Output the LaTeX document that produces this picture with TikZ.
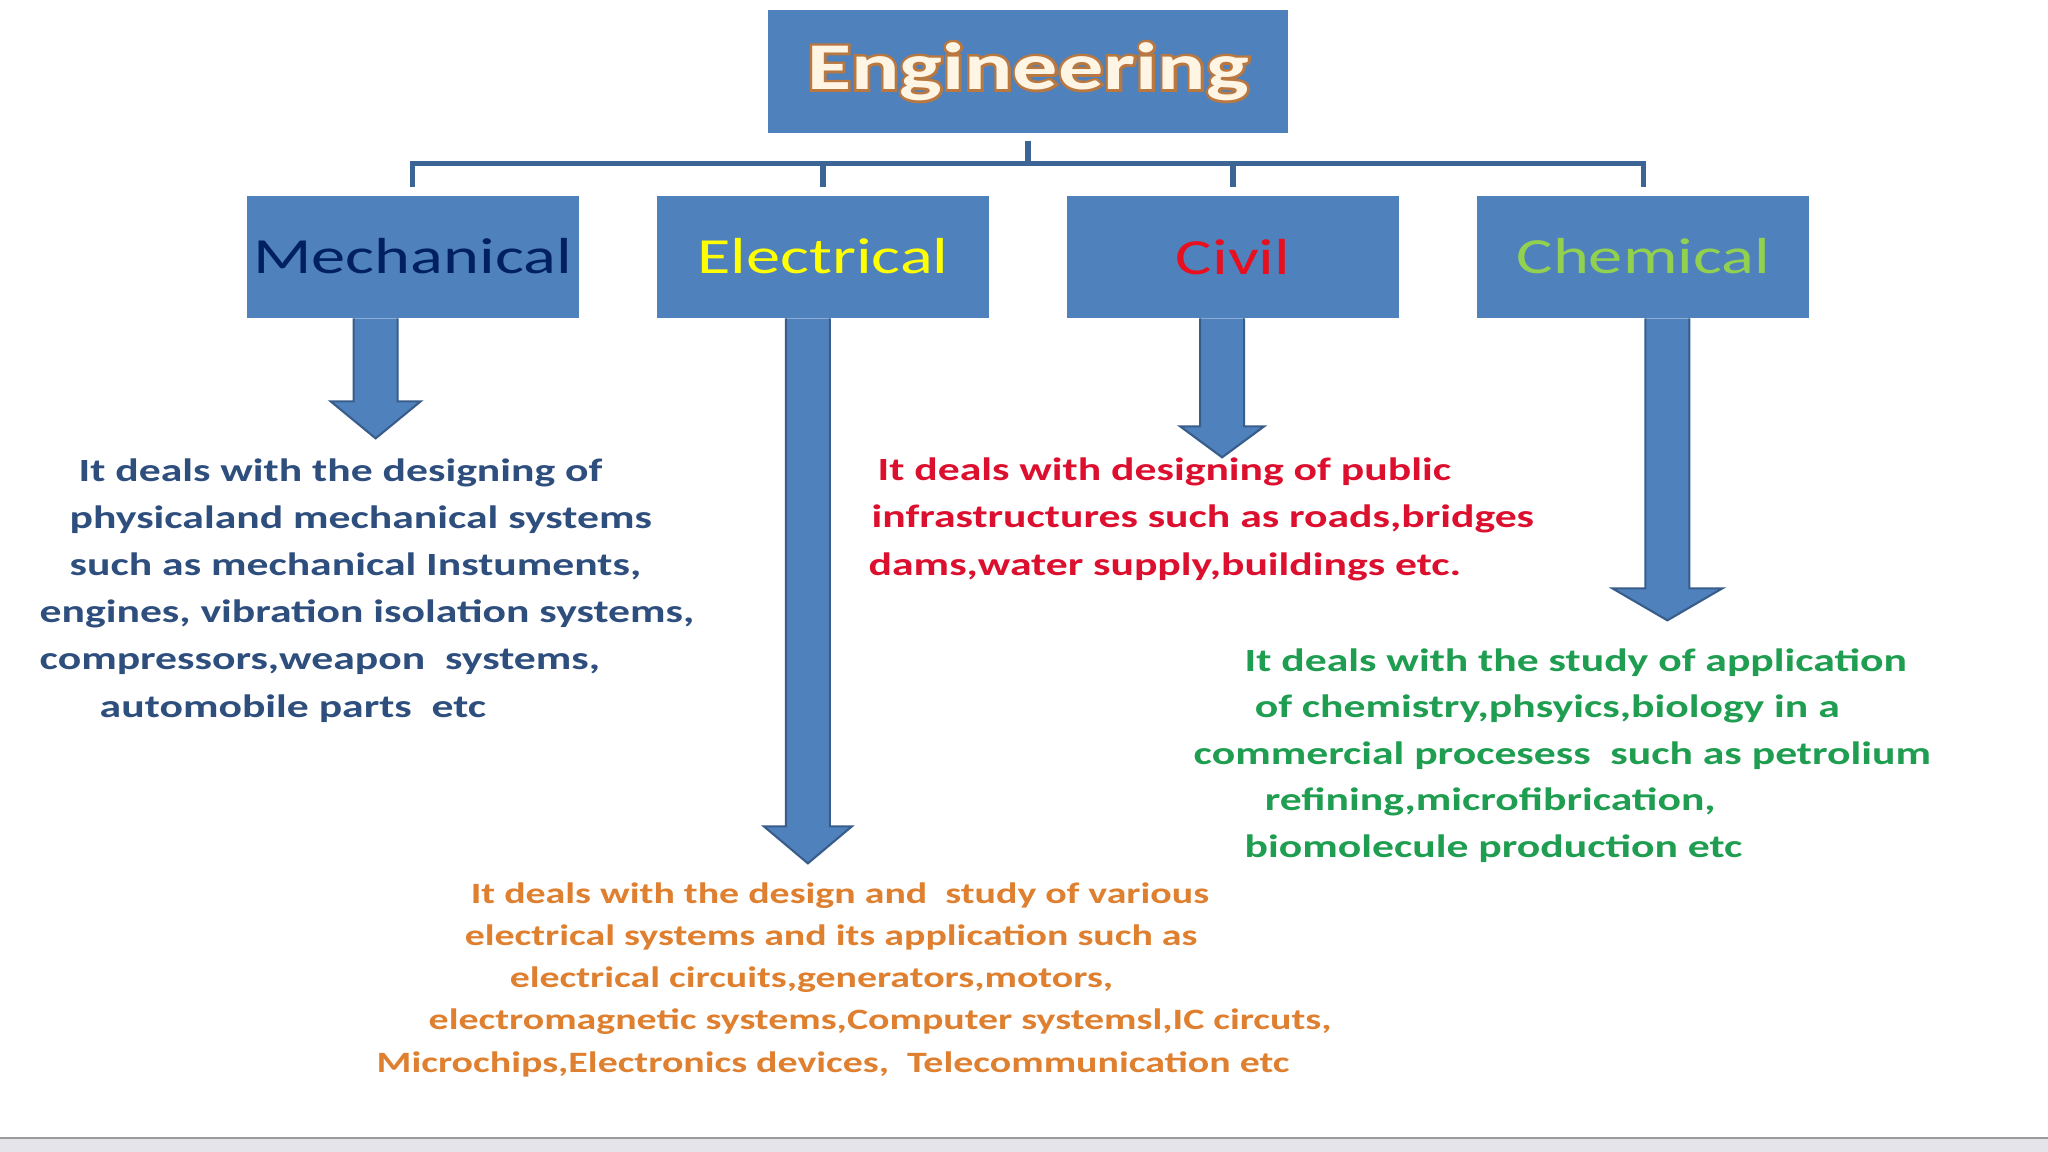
\documentclass[tikz,border=0pt]{standalone}
\usepackage{fontspec}
\setmainfont{Carlito}[FakeStretch=1.35]
\newfontface\glowface{Carlito Bold}[FakeStretch=1.35, FakeBold=8]

\definecolor{boxblue}{HTML}{4F81BD}
\definecolor{linkblue}{HTML}{3C6494}
\definecolor{arrowline}{HTML}{385D8A}
\definecolor{glow}{HTML}{B87840}
\definecolor{cream}{HTML}{FFF5E4}
\definecolor{mechblue}{HTML}{002060}
\definecolor{elecyellow}{HTML}{FFFF00}
\definecolor{civilred}{HTML}{E8101E}
\definecolor{chemgreen}{HTML}{92D050}
\definecolor{mechtext}{HTML}{2E4F7E}
\definecolor{electext}{HTML}{DE8030}
\definecolor{civiltext}{HTML}{DC102E}
\definecolor{chemtext}{HTML}{1F9D50}
\definecolor{bandgray}{HTML}{E4E4EA}
\definecolor{bandline}{HTML}{9A9A9A}

% orange halo round the title
\newcommand{\glowtext}[1]{%
    \makebox[0pt][l]{\glowface\textcolor{glow}{#1}}\textcolor{cream}{#1}}

% block arrow: node, x offset, shaft length, head length, head half width
\newcommand{\blockarrow}[5]{%
    \filldraw[bigarrow] ([shift={(#2,0)}]#1.south) ++(-22,0) -- ++(0,#3)
        -- ++({22-#5},0) -- ++(#5,#4) -- ++(#5,-#4) -- ++({22-#5},0) -- ++(0,-#3);}

\begin{document}
\begin{tikzpicture}[x=0.01cm, y=-0.01cm,
        sibling distance=4.1cm, level distance=1.85cm,
        root/.style = {shape=rectangle, fill=boxblue, inner sep=0pt,
            minimum width=5.2cm, minimum height=1.23cm,
            font=\bfseries\fontsize{19}{22}\selectfont},
        branch/.style = {shape=rectangle, fill=boxblue, inner sep=0pt,
            minimum width=3.32cm, minimum height=1.22cm,
            font=\fontsize{14.4}{17}\selectfont},
        edge from parent/.style = {draw=linkblue, line width=1.5pt},
        edge from parent path = {(\tikzparentnode.south) ++(0,7) -- ++(0,23)
            -| ([yshift=0.08cm]\tikzchildnode.north)},
        bigarrow/.style = {fill=boxblue, draw=arrowline, line width=0.6pt},
        desc/.style = {anchor=base west, align=left, inner sep=0pt}]
    \useasboundingbox (0,0) rectangle (2048,1152);
    \fill[white] (0,0) rectangle (2048,1152);
    \fill[bandgray] (0,1139) rectangle (2048,1152);
    \draw[bandline, line width=0.6pt] (0,1138) -- (2048,1138);

    \node[root] (eng) at (1028,71.5) {\glowtext{Engineering}}
        child { node[branch, text=mechblue] (mech) {Mechanical} }
        child { node[branch, text=elecyellow] (elec) {Electrical} }
        child { node[branch, text=civilred] (civil) {Civil} }
        child { node[branch, text=chemgreen] (chem) {Chemical} };

    \blockarrow{mech}{-37}{83}{37}{45}
    \blockarrow{elec}{-15}{508}{37}{44}
    \blockarrow{civil}{-11}{108}{31}{42}
    \blockarrow{chem}{24}{270}{32}{55}

    % descriptions, placed by the baseline of their last line
    \node[desc, text=mechtext, font=\bfseries\fontsize{9.2}{13.4}\selectfont]
        (mechdesc) at (39,717) {%
        \hspace*{0.39cm}It deals with the designing of\\
        \hspace*{0.30cm}physicaland mechanical systems\\
        \hspace*{0.30cm}such as mechanical Instuments,\\
        engines, vibration isolation systems,\\
        compressors,weapon\ \ systems,\\
        \hspace*{0.60cm}automobile parts\ \ etc};
    \node[desc, text=civiltext, font=\bfseries\fontsize{9.2}{13.4}\selectfont]
        (civildesc) at (868,575) {%
        \hspace*{0.09cm}It deals with designing of public\\
        \hspace*{0.03cm}infrastructures such as roads,bridges\\
        dams,water supply,buildings etc.};
    \node[desc, text=chemtext, font=\bfseries\fontsize{9.2}{13.2}\selectfont]
        (chemdesc) at (1193,857) {%
        \hspace*{0.51cm}It deals with the study of application\\
        \hspace*{0.61cm}of chemistry,phsyics,biology in a\\
        commercial procesess\ \ such as petrolium\\
        \hspace*{0.71cm}refining,microfibrication,\\
        \hspace*{0.51cm}biomolecule production etc};
    \node[desc, text=electext, font=\bfseries\fontsize{8.4}{12}\selectfont]
        (elecdesc) at (376,1072) {%
        \hspace*{0.94cm}It deals with the design and\ \ study of various\\
        \hspace*{0.88cm}electrical systems and its application such as\\
        \hspace*{1.33cm}electrical circuits,generators,motors,\\
        \hspace*{0.52cm}electromagnetic systems,Computer systemsl,IC circuts,\\
        Microchips,Electronics devices,\ \ Telecommunication etc};
\end{tikzpicture}
\end{document}
